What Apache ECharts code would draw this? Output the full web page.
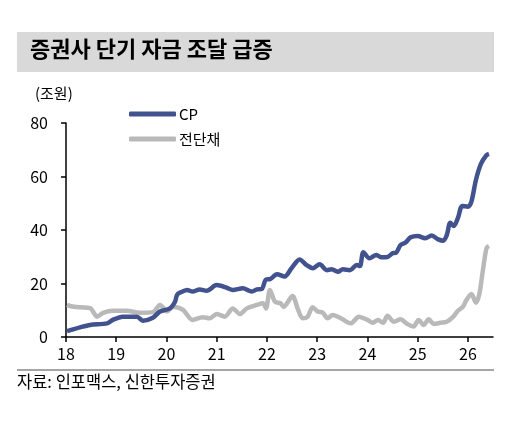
<!DOCTYPE html>
<html>
<head>
<meta charset="utf-8">
<style>
  html, body { margin: 0; padding: 0; background: #fff; }
  #chart { width: 530px; height: 424px; }
</style>
<script src="https://cdn.jsdelivr.net/npm/echarts@6/dist/echarts.min.js"></script>
</head>
<body>
<div id="chart"></div>
<script>
// 연도(소수) / 값 (조원)
const cpYears = [18.02, 18.28, 18.48, 18.82, 18.93, 19.13, 19.41, 19.53, 19.73, 19.87, 20.07, 20.17, 20.21, 20.27, 20.41, 20.52, 20.66, 20.8, 21.0, 21.2, 21.32, 21.52, 21.7, 21.8, 21.9, 21.98, 22.06, 22.2, 22.35, 22.49, 22.65, 22.79, 22.91, 23.05, 23.19, 23.29, 23.41, 23.51, 23.65, 23.79, 23.85, 23.92, 24.04, 24.18, 24.27, 24.4, 24.5, 24.57, 24.66, 24.76, 24.86, 25.0, 25.15, 25.28, 25.41, 25.51, 25.58, 25.65, 25.72, 25.8, 25.89, 26.0, 26.07, 26.16, 26.26, 26.37, 26.42];
const cpValues = [2.2, 3.6, 4.5, 5.1, 6.4, 7.6, 7.6, 6.1, 7.2, 9.5, 10.7, 13.2, 15.7, 16.6, 17.6, 17.0, 17.8, 17.3, 19.4, 18.4, 17.6, 18.2, 17.0, 17.8, 18.0, 21.5, 21.6, 23.5, 22.6, 25.7, 29.0, 26.9, 25.7, 27.2, 25.0, 25.3, 24.4, 25.3, 25.0, 26.9, 26.5, 31.7, 29.4, 30.7, 29.8, 29.9, 31.3, 31.5, 34.4, 35.3, 37.3, 37.8, 36.9, 37.9, 36.5, 36.0, 38.1, 42.7, 41.5, 44.4, 49.0, 48.7, 50.6, 58.7, 64.7, 68.0, 68.5];

const bondYears = [18.02, 18.1, 18.28, 18.48, 18.62, 18.74, 18.93, 19.21, 19.47, 19.73, 19.87, 20.01, 20.13, 20.33, 20.52, 20.72, 20.86, 21.0, 21.16, 21.32, 21.46, 21.6, 21.8, 21.92, 21.98, 22.06, 22.16, 22.27, 22.33, 22.51, 22.61, 22.71, 22.81, 22.91, 23.01, 23.11, 23.21, 23.31, 23.47, 23.67, 23.83, 24.0, 24.11, 24.21, 24.31, 24.4, 24.53, 24.66, 24.79, 24.92, 25.02, 25.12, 25.22, 25.32, 25.45, 25.58, 25.71, 25.8, 25.9, 25.97, 26.07, 26.16, 26.23, 26.29, 26.37, 26.42];
const bondValues = [12.0, 11.5, 11.1, 10.8, 7.6, 9.0, 9.8, 9.8, 9.1, 9.3, 12.0, 9.5, 11.3, 10.1, 6.4, 7.4, 7.0, 8.6, 7.6, 10.7, 8.6, 10.7, 12.0, 12.6, 10.7, 17.6, 13.2, 12.6, 11.3, 15.3, 10.7, 7.0, 7.6, 11.1, 9.5, 9.1, 7.0, 8.2, 7.0, 5.1, 7.6, 6.4, 5.3, 6.4, 5.3, 7.9, 5.7, 6.6, 4.9, 3.9, 6.4, 4.5, 6.6, 4.9, 5.3, 5.7, 7.6, 9.8, 11.3, 13.8, 16.1, 12.8, 16.3, 23.8, 33.2, 34.0];

const xTicks = [18, 19, 20, 21, 22, 23, 24, 25, 26];
const yTicks = [0, 20, 40, 60, 80];

const zip = (xs, ys) => xs.map((x, i) => [x, ys[i]]);
const font = '"Noto Sans CJK KR", "Noto Sans", sans-serif';
const cpColor = '#42528e';
const bondColor = '#b9b9b9';

const chart = echarts.init(document.getElementById('chart'), null, { renderer: 'canvas' });

chart.setOption({
    animation: false,
    backgroundColor: '#fff',
    textStyle: { fontFamily: font },
    grid: { left: 66, right: 37, top: 123, bottom: 87 },
    legend: {
        orient: 'vertical',
        left: 124,
        top: 99,
        icon: 'roundRect',
        itemWidth: 47,
        itemHeight: 5,
        itemGap: 5,
        textStyle: { fontSize: 15, color: '#000', fontFamily: font, padding: [0, 0, 0, -2], lineHeight: 20 },
        data: ['CP', '전단채']
    },
    xAxis: {
        type: 'value',
        min: 18,
        max: 26.5,
        axisLine: { show: true, lineStyle: { color: '#000', width: 1.5 } },
        axisTick: { show: true, customValues: xTicks, length: 5, lineStyle: { color: '#000', width: 1.5 } },
        axisLabel: { customValues: xTicks, margin: 9, fontSize: 16, color: '#000', fontFamily: font },
        splitLine: { show: false }
    },
    yAxis: {
        type: 'value',
        min: 0,
        max: 80,
        interval: 20,
        axisLine: { show: true, lineStyle: { color: '#000', width: 1.5 } },
        axisTick: { show: true, length: 5, lineStyle: { color: '#000', width: 1.5 } },
        axisLabel: { customValues: yTicks, margin: 18, fontSize: 16, color: '#000', fontFamily: font },
        splitLine: { show: false }
    },
    graphic: [
        { type: 'rect', shape: { x: 17, y: 32, width: 477, height: 40 }, style: { fill: '#d9d9d9' }, z: -1 },
        { type: 'text', left: 30, top: 38, style: { text: '증권사 단기 자금 조달 급증', fontSize: 22, fontWeight: 'bold', fill: '#000', fontFamily: font } },
        { type: 'text', left: 35, top: 86, style: { text: '(조원)', fontSize: 15, fill: '#000', fontFamily: font } },
        { type: 'line', shape: { x1: 17, y1: 370, x2: 494, y2: 370 }, style: { stroke: '#a6a6a6', lineWidth: 2 } },
        { type: 'text', left: 17, top: 373, style: { text: '자료: 인포맥스, 신한투자증권', fontSize: 16.5, fill: '#000', fontFamily: font } }
    ],
    series: [
        {
            name: '전단채',
            type: 'line',
            showSymbol: false,
            symbol: 'none',
            smooth: 0.3,
            lineStyle: { color: bondColor, width: 4.5 },
            itemStyle: { color: bondColor },
            data: zip(bondYears, bondValues)
        },
        {
            name: 'CP',
            type: 'line',
            showSymbol: false,
            symbol: 'none',
            smooth: 0.3,
            lineStyle: { color: cpColor, width: 4.5 },
            itemStyle: { color: cpColor },
            data: zip(cpYears, cpValues)
        }
    ]
});
</script>
</body>
</html>
